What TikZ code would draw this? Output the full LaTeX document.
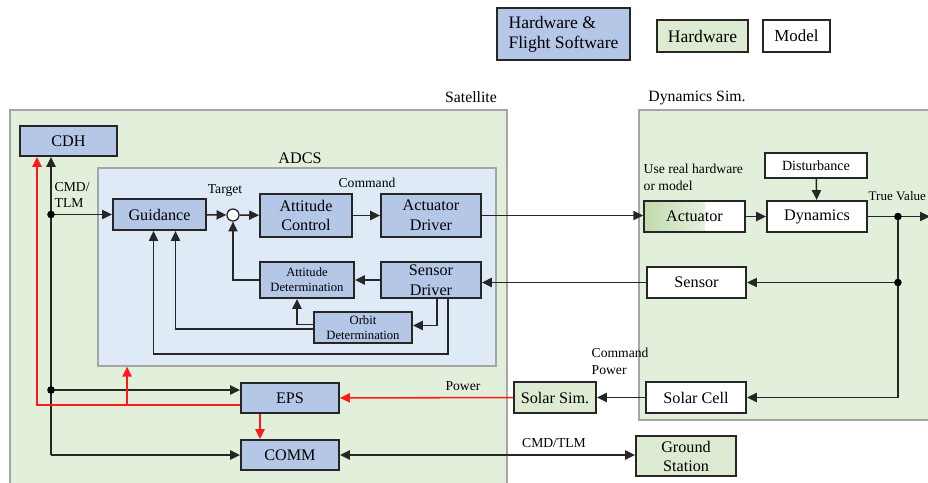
\documentclass[tikz,border=0pt]{standalone}
\usepackage{fontspec}
\setmainfont{Liberation Serif}
\usetikzlibrary{arrows.meta, calc}
\definecolor{fswblue}{HTML}{B4C7E7}
\definecolor{hwgreen}{HTML}{DDEBD2}
\definecolor{actgreen}{HTML}{BFDAAE}
\definecolor{satgreen}{HTML}{E2EFDA}
\definecolor{adcsblue}{HTML}{DEEAF6}
\definecolor{boxline}{HTML}{262626}
\definecolor{grpline}{HTML}{A5A5A5}
\definecolor{pwred}{HTML}{FF1A1A}

\begin{document}
\begin{tikzpicture}[x=0.025cm, y=-0.025cm,
    sw/.style={draw=boxline, line width=1.3pt, fill=fswblue, inner sep=1pt, align=center,
      font=\fontsize{11.5}{14}\selectfont},
    hw/.style={sw, fill=hwgreen},
    mdl/.style={sw, fill=white},
    grp/.style={draw=grpline, line width=1pt, inner sep=0pt},
    lbl/.style={font=\fontsize{9.7}{11.5}\selectfont, align=left, inner sep=1pt},
    arr/.style={draw=boxline, line width=1.1pt, -{Triangle[length=7pt,width=6.5pt]}},
    parr/.style={arr, draw=pwred}]
    \useasboundingbox (0,0) rectangle (928,482);
    \fill[white] (0,0) rectangle (928,482);
    \node[grp, fill=satgreen, minimum width=12.43cm, minimum height=9.5cm] (sat) at (258.5,300) {};
    \node[grp, fill=satgreen, minimum width=8.03cm, minimum height=7.75cm] (dynsim) at (799.5,265) {};
    \node[grp, fill=adcsblue, minimum width=9.95cm, minimum height=4.95cm] (adcs) at (297,267) {};
    \node[sw, minimum width=3.33cm, minimum height=1.3cm, align=left, font=\fontsize{12.5}{14.2}\selectfont] (lgsw) at (563.5,34) {Hardware \&\\Flight Software};
    \node[hw, minimum width=2.28cm, minimum height=0.8cm, font=\fontsize{12.5}{14}\selectfont] (lghw) at (702.5,36) {Hardware};
    \node[mdl, minimum width=1.68cm, minimum height=0.8cm, font=\fontsize{12}{14}\selectfont] (lgmdl) at (796.5,36) {Model};
    \node[lbl, font=\fontsize{11.2}{13}\selectfont] (satlbl) at (471,97) {Satellite};
    \node[lbl, font=\fontsize{11.2}{13}\selectfont] (dynlbl) at (697,98) {Dynamics Sim.};
    \node[lbl, font=\fontsize{11.5}{13}\selectfont] (adcslbl) at (300,158) {ADCS};
    \node[sw, minimum width=2.43cm, minimum height=0.75cm] (cdh) at (68.5,141) {CDH};
    \node[sw, minimum width=2.33cm, minimum height=0.78cm] (guid) at (159.5,214.5) {Guidance};
    \node[circle, draw=boxline, line width=0.9pt, fill=white, minimum size=0.3cm, inner sep=0pt] (sum) at (233,215) {};
    \node[sw, minimum width=2.3cm, minimum height=1.08cm] (attc) at (306,215.5) {Attitude\\Control};
    \node[sw, minimum width=2.5cm, minimum height=1.08cm] (actd) at (431,215.5) {Actuator\\Driver};
    \node[sw, minimum width=2.35cm, minimum height=0.9cm, font=\fontsize{9}{10.5}\selectfont] (attd) at (307,280) {Attitude\\Determination};
    \node[sw, minimum width=2.5cm, minimum height=0.9cm] (sensd) at (431,280) {Sensor\\Driver};
    \node[sw, minimum width=2.45cm, minimum height=0.78cm, font=\fontsize{9}{10.5}\selectfont] (orbd) at (363,327.5) {Orbit\\Determination};
    \node[sw, minimum width=2.45cm, minimum height=0.75cm] (eps) at (290,398) {EPS};
    \node[sw, minimum width=2.45cm, minimum height=0.75cm] (comm) at (290,455) {COMM};
    \node[hw, minimum width=2.05cm, minimum height=0.78cm] (solsim) at (555,397.5) {Solar Sim.};
    \node[mdl, minimum width=2.5cm, minimum height=0.78cm] (solcell) at (696,397.5) {Solar Cell};
    \node[hw, minimum width=2.5cm, minimum height=1cm, font=\fontsize{11.5}{13.5}\selectfont] (gnd) at (686,456) {Ground\\Station};
    \node[mdl, minimum width=2.52cm, minimum height=0.78cm,
      path picture={\shade[left color=actgreen, right color=white]
        (path picture bounding box.south west) rectangle ($(path picture bounding box.north east)+(-40,0)$);}] (act) at (694.5,216.5) {Actuator};
    \node[mdl, minimum width=2.5cm, minimum height=0.78cm] (dyn) at (817,216.5) {Dynamics};
    \node[mdl, minimum width=2.55cm, minimum height=0.63cm, font=\fontsize{10}{12}\selectfont] (dist) at (816,165.5) {Disturbance};
    \node[mdl, minimum width=2.48cm, minimum height=0.78cm] (sens) at (696.5,282.5) {Sensor};
    \node[lbl] (tgtlbl) at (225,190) {Target};
    \node[lbl] (cmdlbl) at (367,183) {Command};
    \node[lbl, anchor=west] (cmdtlm) at (53,195) {CMD/\\TLM};
    \node[lbl, anchor=west, font=\fontsize{9.3}{11}\selectfont] (tvlbl) at (867,196) {True Value};
    \node[lbl, anchor=north west, font=\fontsize{9.7}{12}\selectfont] (uselbl) at (642,162) {Use real hardware\\or model};
    \node[lbl, anchor=west, font=\fontsize{9.7}{12}\selectfont] (cplbl) at (590,361) {Command\\Power};
    \node[lbl] (pwlbl) at (463,386) {Power};
    \node[lbl] (gslbl) at (554,443) {CMD/TLM};
    \coordinate (bus) at ($(cdh.south)+(-17.5,0)$);
    \coordinate (tv) at ($(dyn.east)+(30,0)$);
    \coordinate (tvs) at (tv |- sens.east);
    \draw[arr] (guid) -- (sum);
    \draw[arr] (sum) -- (attc);
    \draw[arr] (attc) -- (actd);
    \draw[arr] (actd.east) -- (actd.east -| act.west);
    \draw[arr] (act) -- (dyn);
    \draw[arr] (dist) -- (dyn);
    \draw[arr] (dyn.east) -- ++(62,0);
    \draw[arr] (tv) |- (solcell.east);
    \draw[arr] (tvs) -- (sens.east);
    \draw[arr] (sens.west) -- (sens.west -| sensd.east);
    \draw[arr] (sensd) -- (attd);
    \draw[arr] (attd.west) -| (sum.south);
    \draw[arr] ($(sensd.south)+(6,0)$) |- ($(orbd.east)+(0,-2)$);
    \draw[arr] ($(sensd.south)+(17,0)$) -- ++(0,55) -| ($(guid.south)+(-6,0)$);
    \draw[arr] ($(orbd.west)+(0,1.5)$) -| ($(guid.south)+(16,0)$);
    \draw[arr] ($(orbd.west)+(0,-3)$) -| ($(attd.south)+(-10,0)$);
    \draw[arr] (bus |- comm.west) -- (bus);
    \draw[arr] (bus |- comm.west) -- (comm.west);
    \draw[arr] (bus |- guid.west) -- (guid.west);
    \draw[arr] ($(bus |- eps.west)+(0,-8)$) -- ($(eps.west)+(0,-8)$);
    \fill (tv) circle (2.7pt);
    \fill (tvs) circle (2.7pt);
    \fill (bus |- guid.west) circle (2.7pt);
    \fill ($(bus |- eps.west)+(0,-8)$) circle (2.7pt);
    \draw[parr] ($(eps.west)+(0,7)$) -| ($(cdh.south)+(-31.5,0)$);
    \coordinate (pw) at ($(eps.west)+(-113,7)$);
    \draw[parr] (pw) -- (pw |- adcs.south);
    \draw[parr] ($(eps.south)+(-30,0)$) -- ($(comm.north)+(-30,0)$);
    \draw[parr] (solsim) -- (eps);
    \draw[arr] (solcell) -- (solsim);
    \draw[arr, {Triangle[length=7pt,width=6.5pt]}-{Triangle[length=7pt,width=6.5pt]}] (comm.east) -- (comm.east -| gnd.west);
\end{tikzpicture}
\end{document}
